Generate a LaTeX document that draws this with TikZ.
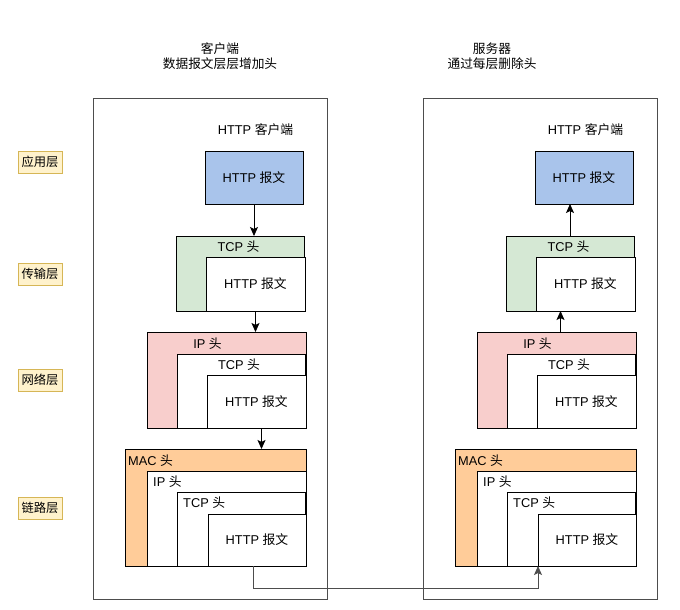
\documentclass[tikz,border=0pt]{standalone}
\usepackage{fontspec}
\setmainfont{Liberation Sans}
\newfontfamily\cjk{Noto Sans CJK SC}
\usetikzlibrary{arrows.meta,calc}
\definecolor{cblue}{HTML}{A9C4EB}
\definecolor{cgreen}{HTML}{D5E8D4}
\definecolor{cpink}{HTML}{F8CECC}
\definecolor{corange}{HTML}{FFCC99}
\definecolor{clabel}{HTML}{FFF2CC}
\definecolor{clabelline}{HTML}{D6B656}
\definecolor{cframe}{HTML}{4D4D4D}
\tikzset{
  box/.style={draw=black, line width=0.8pt, inner sep=0pt, outer sep=0pt, anchor=north west, font=\fontsize{12.8}{14}\selectfont},
  lbl/.style={font=\fontsize{12.8}{14}\selectfont, inner sep=0pt},
  layerbox/.style={draw=clabelline, fill=clabel, line width=0.8pt, font=\fontsize{12.3}{14}\selectfont\cjk, inner sep=0pt, minimum width=44pt, minimum height=22pt},
  arr/.style={-{Stealth[length=9pt,width=8pt,inset=2pt]}, line width=0.8pt},
  frame/.style={draw=cframe, line width=0.9pt, anchor=north west, inner sep=0pt}
}
\newcommand{\mystack}[2]{%
\begin{scope}[xshift=#2]
\node[frame, minimum width=234pt, minimum height=501pt] (#1frame) at (93,98) {};
\node[lbl] (#1app) at (255.5,130) {HTTP {\cjk 客户端}};
\node[box, fill=cblue, minimum width=98pt, minimum height=53pt] (#1h1) at (205,151) {HTTP {\cjk 报文}};
% transport
\node[box, fill=cgreen, minimum width=128pt, minimum height=75pt] (#1g) at (176,236) {};
\node[box, fill=white, minimum width=99pt, minimum height=54pt] (#1h2) at (206,257) {HTTP {\cjk 报文}};
\node[lbl] (#1gt) at (238.5,247) {TCP {\cjk 头}};
% network
\node[box, fill=cpink, minimum width=159pt, minimum height=96pt] (#1p) at (147,332) {};
\node[box, fill=white, minimum width=128pt, minimum height=74pt] (#1t3) at (177,354) {};
\node[box, fill=white, minimum width=99pt, minimum height=53pt] (#1h3) at (207,375) {HTTP {\cjk 报文}};
\node[lbl] (#1pt) at (207.5,344) {IP {\cjk 头}};
\node[lbl] (#1t3t) at (239,365) {TCP {\cjk 头}};
% link
\node[box, fill=corange, minimum width=181pt, minimum height=117pt] (#1m) at (125,449) {};
\node[box, fill=white, minimum width=159pt, minimum height=95pt] (#1i4) at (147,471) {};
\node[box, fill=white, minimum width=128pt, minimum height=74pt] (#1t4) at (177,492) {};
\node[box, fill=white, minimum width=98pt, minimum height=52pt] (#1h4) at (208,514) {HTTP {\cjk 报文}};
\node[lbl, anchor=west] (#1mt) at (128,461) {MAC {\cjk 头}};
\node[lbl, anchor=west] (#1it) at (153,482) {IP {\cjk 头}};
\node[lbl, anchor=west] (#1tt) at (183,503) {TCP {\cjk 头}};
\end{scope}}
\begin{document}
\begin{tikzpicture}[x=1pt,y=-1pt]
\useasboundingbox (0,0) rectangle (680,610);
% titles
\node[lbl, align=center, font=\fontsize{12.7}{15}\selectfont\cjk] (ltitle) at (220,56) {客户端\\数据报文层层增加头};
\node[lbl, align=center, font=\fontsize{12.7}{15}\selectfont\cjk] (rtitle) at (492,56) {服务器\\通过每层删除头};
% layer labels
\node[layerbox] (l1) at (40,162) {应用层};
\node[layerbox] (l2) at (40,274) {传输层};
\node[layerbox] (l3) at (40,380) {网络层};
\node[layerbox] (l4) at (40,508) {链路层};
% stacks
\mystack{L}{0pt}
\mystack{R}{330pt}
% left arrows (down)
\draw[arr] (Lh1.south) -- (Lh1.south |- Lg.north);
\draw[arr] (Lh2.south) -- (Lh2.south |- Lp.north);
\coordinate (La3) at ([xshift=5pt]Lh3.south);
\draw[arr] (La3) -- (La3 |- Lm.north);
% right arrows (up)
\draw[arr] (Rg.north) -- (Rg.north |- Rh1.south);
\coordinate (Ra2) at ([xshift=4pt]Rp.north);
\draw[arr] (Ra2) -- (Ra2 |- Rg.south);
% transmission
\coordinate (Ls) at ([xshift=-4pt]Lh4.south);
\draw[arr, draw=cframe] (Ls) -- ++(0,22) -| (Rh4.south west);
\end{tikzpicture}
\end{document}
